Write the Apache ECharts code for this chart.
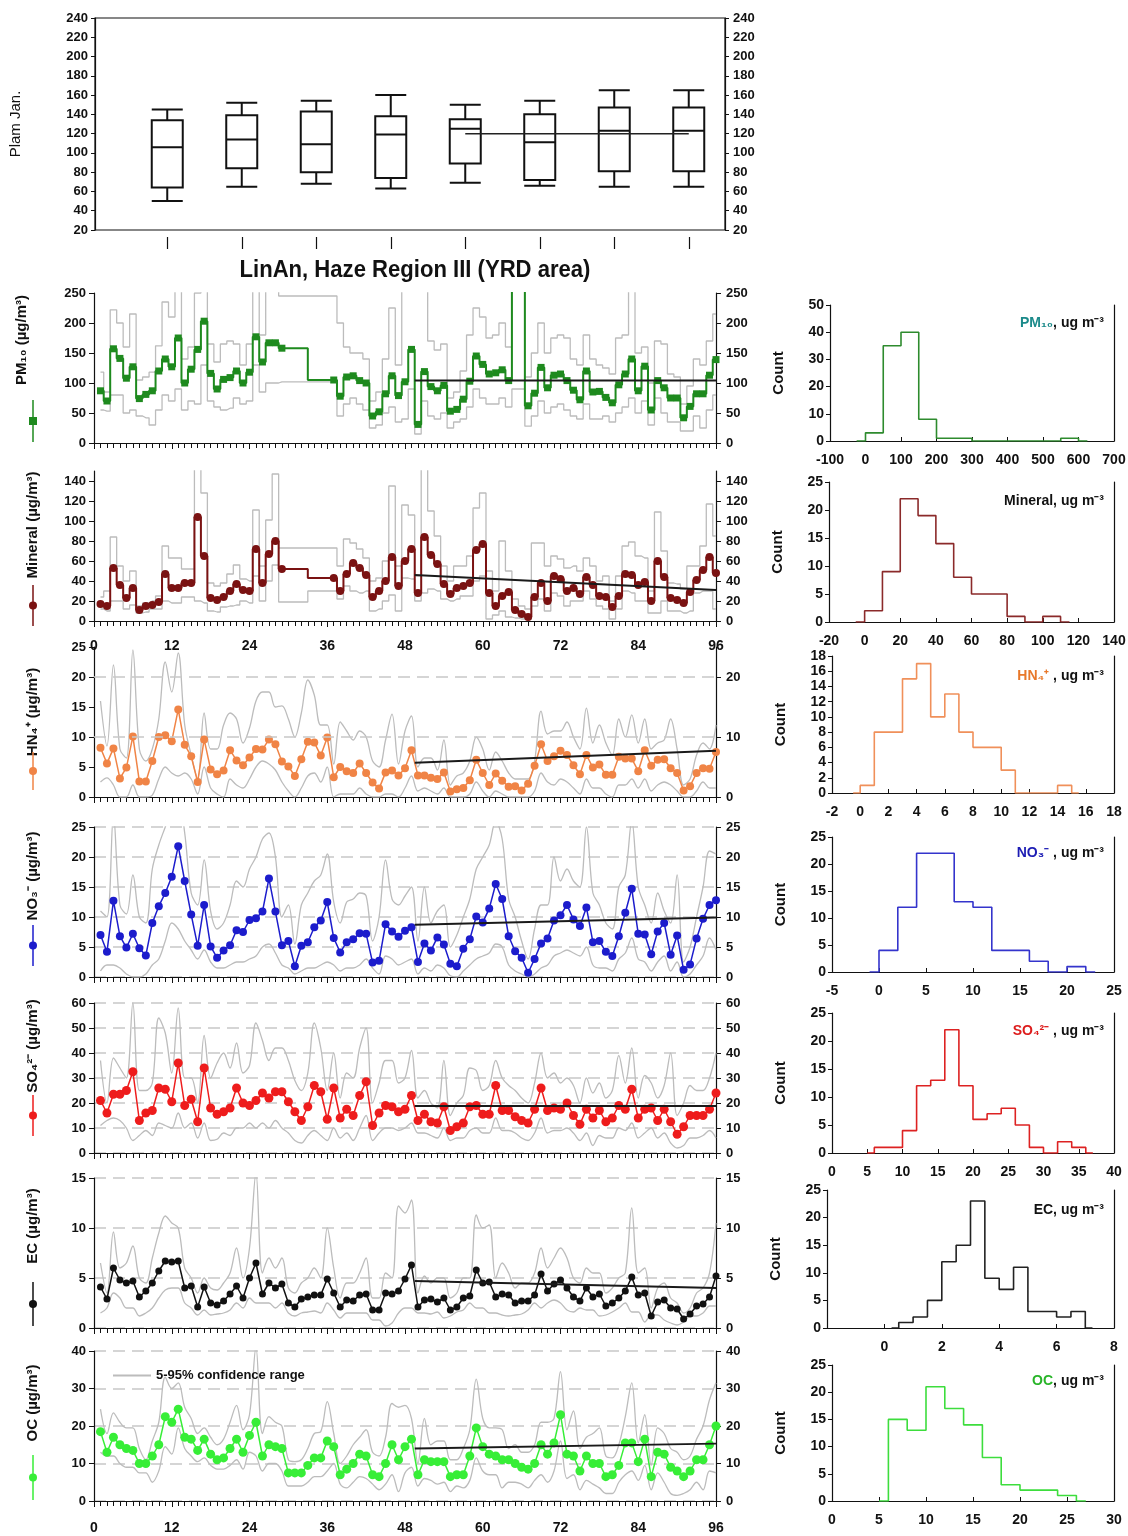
<!DOCTYPE html>
<html>
<head>
<meta charset="utf-8">
<title>LinAn, Haze Region III (YRD area)</title>
<script src="https://cdn.jsdelivr.net/npm/echarts@6/dist/echarts.min.js"></script>
<style>
  html, body { margin: 0; padding: 0; background: #fff; }
  #chart { width: 1128px; height: 1536px; }
</style>
</head>
<body>
<div id="chart"></div>
<script>
// ---- box plot (top panel) ----
const boxCats = ['1', '2', '3', '4', '5', '6', '7', '8']
// [min, Q1, median, Q3, max]
const boxStats = [
  [50, 64, 106, 134, 145],
  [65, 84, 114, 139, 152],
  [68, 80, 109, 143, 154],
  [63, 74, 119, 138, 160],
  [69, 89, 125, 135, 150],
  [66, 72, 111, 140, 154],
  [65, 81, 123, 147, 165],
  [65, 81, 123, 147, 165]
]
const boxLevel = [null, null, null, null, 120, 120, 120, 120]

// ---- time series, day 1..96 (null = no sample) ----
const pm10 = [87,70,157,141,108,127,74,81,87,120, 140,127,175,100,123,156,203,116,90,106,
  109,120,100,118,177,135,167,167,158,null, null,null,null,null,null,null,105,78,110,112,
  104,100,45,52,82,112,79,102,156,31, 119,94,87,96,53,56,73,103,145,131,
  115,117,122,104,575,270,62,83,126,92, 113,115,104,88,72,120,85,86,76,67,
  97,115,140,87,128,55,104,92,75,75, 42,61,82,82,113,139]
const pm10Upper = [118,85,222,200,160,215,105,110,118,162, 235,210,260,140,160,250,300,165,135,165,
  170,165,130,165,300,180,300,300,245,null, null,null,null,null,null,null,245,200,160,150,
  150,140,70,85,140,225,130,300,300,300, 300,170,155,165,75,85,120,180,225,210,
  175,180,200,160,700,400,110,150,200,150, 175,180,175,140,130,180,140,130,125,115,
  175,180,300,150,160,100,170,165,115,110, 65,95,140,130,170,215]
const pm10Lower = [55,53,80,80,50,55,45,42,30,55, 80,70,90,55,70,65,130,70,60,55,
  58,75,65,70,130,85,100,100,102,null, null,null,null,null,null,null,102,45,65,75,
  65,55,25,30,50,60,35,40,90,15, 70,45,40,50,25,35,40,60,90,75,
  65,65,75,60,90,90,28,45,70,50, 60,65,55,45,40,65,40,40,45,35,
  50,60,75,50,70,30,75,50,35,35, 20,20,45,25,55,80]
const pm10Trend = [[49.5, 104], [96, 104]]

const mineral = [17,15,53,36,23,33,11,15,16,19, 47,33,33,38,38,104,65,23,21,24,
  30,37,31,30,72,38,67,80,52,null, null,null,null,null,null,null,43,30,47,58,
  53,46,24,30,40,64,35,60,72,28, 84,66,57,37,27,33,35,38,71,77,
  28,15,25,29,11,7,4,24,38,20, 45,42,30,33,27,44,36,25,24,14,
  25,47,46,36,39,20,60,44,23,21, 18,29,41,51,64,48]
const mineralUpper = [24,30,84,55,40,50,15,18,20,25, 75,63,63,52,52,160,128,38,35,38,
  47,56,42,40,111,55,101,147,73,null, null,null,null,null,null,null,73,55,82,78,
  72,63,40,43,60,135,55,116,106,45, 165,110,85,55,40,55,55,65,113,128,
  50,30,80,50,22,15,12,78,78,55, 65,62,53,55,50,63,55,40,45,20,
  45,75,79,65,63,30,109,70,38,37, 32,55,55,75,117,85]
const mineralLower = [12,10,20,20,12,16,8,9,12,12, 20,18,18,24,24,20,18,10,9,14,
  15,16,20,18,45,20,40,56,19,null, null,null,null,null,null,null,30,22,35,30,
  28,30,10,12,20,26,10,43,42,20, 28,32,30,22,20,22,25,25,40,45,
  2,6,10,4,3,2,2,15,22,10, 28,25,15,20,20,30,22,15,12,2,
  12,30,28,20,20,8,8,20,10,10, 8,10,28,30,30,12]
const mineralTrend = [[49.5, 46], [96, 31]]

const nh4 = [8.2,5.6,8.1,3.1,4.9,10.1,2.6,2.6,6,10, 10.3,9.3,14.6,8.7,6.8,2.5,9.6,4.6,3.8,4.4,
  7.8,6.1,5.3,6.6,8,7.9,9.6,8.8,5.9,5.1, 3.5,6.3,9.2,9.1,6.9,9.9,3.3,5,4.3,4,
  5.6,4,2.4,1.4,4.1,4.4,3.6,4.8,7.8,3.6, 3.6,3.2,3.0,4.1,0.9,1.3,1.5,2.8,6.2,4.0,
  2.0,3.9,2.7,1.7,1.8,1.1,2.2,5.2,8.8,6.0, 6.8,7.7,7.0,5.3,3.8,7.0,4.9,5.4,3.7,3.7,
  6.7,6.4,6.4,4.3,7.8,5.2,6.2,6.3,4.8,4.0, 1.1,1.8,4.0,4.8,4.7,7.5]
const nh4Upper = [16,8.5,22,8,6.5,24.5,8,6,8,13, 22.5,17.5,24,12,7,3,14,8,8,12,
  14,13,9,11.5,16,17.5,17.5,15,15.2,13, 10,14,19.5,17,12,12,5.5,12.5,11,9.5,
  11,10,6,5,9.5,13.8,5.5,11,13.5,5, 6.5,6.5,4.5,9.5,2,3.5,4,6,10,8,
  4.5,7.5,6,4,3,3,3,6,14.3,10.5, 11,11,12.5,10,8,14.8,9,12,9,7,
  13,10,13.7,9,13,8,9,9.5,13,8, 2,3,7,9,8,12]
const nh4Lower = [2.5,3.2,2,0,0,2,0,0,0.3,3, 5,4,3.5,4,3,0.5,5,1.5,0.5,0,
  3,2,1.5,3,5,6,5.5,4.5,2.5,1, 0,1.5,3.5,4,2.5,5,0,0.5,0.5,0.5,
  1.5,0.5,0,0,0.5,0.5,0,1.5,3.5,1, 1.5,1,0.5,1.5,0,0,0,0.5,2.5,1,
  0,1,0.5,0,0,0,0,1,4,2.5, 2,3,2.5,1.5,0.5,3,1.5,1.5,0.5,0,
  2,2,3,1.5,3,1,2,2.5,2,1, 0,0,1,2.5,1.5,1.5]
const nh4Trend = [[49.5, 5.7], [96, 7.7]]

const no3 = [7,4.2,12.7,6.8,4.9,7.2,4.8,3.6,9,11.8, 14,16.7,21.8,16,10.4,5.2,12,5.1,3.2,4.4,
  5.3,7.8,7.5,9.5,9.8,10.9,16.4,10.9,5.3,6, 1.8,5.2,5.8,8.3,9.4,12.5,6.5,4.1,5.8,6.3,
  7.3,7.2,2.4,2.7,8.8,7.6,6.7,7.7,8.3,2.5, 5.6,4.4,6.6,5.4,2.2,1.8,4.7,6.3,10.1,9.1,
  11.4,15.5,13,6.8,4.3,3.2,0.7,3,5.6,6.4, 9.4,10.3,12,9.6,8.5,11.6,5.8,6,4.2,3.5,
  6.8,10.7,14.7,7.2,7.1,3.8,7.6,9,3.7,6.9, 1.2,2.1,6.4,9.7,12,12.8]
const no3Upper = [11,10,27,12,10.5,17,10,9,18,22, 25,28,30,24,14,12,19.5,11,8,9,
  12,16,15,18,20,23,24,20,10,12, 5.5,12,14,16,17,20.5,12.5,9,12.5,13,
  14,13.5,6,10,19.5,13,12,13.5,15,6, 15,9,11,12,5,7,10,13,18,20,
  22,26,23,13,10,6,3,8,12,12, 20,16,18,16,15,25,14,12,9,8,
  15,17,26,15,12,9,14,11,9,17, 2.5,5,10,15,21,20.5]
const no3Lower = [1,2,2,1.5,0.5,0,0,0.5,2,3, 6,9,8,6,4.5,3,4.5,2.5,1.5,1.5,
  2,2.5,2.5,3,3.5,5,5.5,4,2,1.5, 0.5,1,1.5,1.5,2,2.5,2,1,1.5,1.5,
  2,3,1.5,0.5,3.5,3,2,2.5,3,0.5, 1.5,1,2,1.5,0.2,0,1,2,3,3.5,
  4,5.5,5,2,1,0.5,0,0.5,1.5,2, 3.5,4,4.5,4,3.5,5,2,1.5,1.5,1,
  3,4,6.5,3,2.5,1,2.5,3.5,1,2.5, 0,0.5,2,3.5,6.5,4.5]
const no3Trend = [[49.5, 8.7], [96, 9.9]]

const so4 = [21,16,23.5,23.5,25,32.5,13,16,17,26, 25.5,20.5,36,19,21.5,12.5,34,18,15.5,16.5,
  18,26,20,19,21,24,22,24.5,24.5,20.5, 16.5,13,18.5,27,24.5,13.5,26,14,17.5,15,
  23,28.5,11,16,19,18.5,16.5,17.5,23,13, 15.5,12.5,12,18.5,9,10.5,12,18.5,19,15.5,
  15.5,27,17,17,14.5,13,12,17.5,26,17, 18,17.5,20,15,11.5,17.5,14,17,12.5,14,
  19,17.5,25.5,14,17.5,18,13,17.5,12.5,7.5, 10.5,15,15,15,17.5,24]
const so4Upper = [37,20,38,34,30,60,25,25,28,54, 48,32,58,30,30,20,47,30,36,40,
  34,44,32,35,52,45,37,42,42,37, 29,25,32,52,42,25,40,22,32,30,
  42,50,20,28,37,37,28,30,41,22, 25,20,18,37,15,20,23,34,33,25,
  27,37,30,27,25,22,20,28,40,30, 32,28,30,27,20,30,24,28,22,25,
  39,28,42,22,31,28,22,27,40,15, 20,27,25,25,30,40]
const so4Lower = [11,13,14,13,10,5,7,9,7,12, 11,10,16,10,12,6,12,5,5.5,8,
  7,10,10,12,10,12,10,13,10,8, 5,4,7,9,7,5,10,6,8,5,
  10,15,5,8,10,10,9,10,12,8, 8,7,6,10,5,6,6,9,10,8,
  8,14,9,9,8,6,5,8,14,8, 9,9,10,8,5,8,3,7,6,6,
  10,9,12,6,8,10,6,8,4,2, 3,6,6,7,9,6]
const so4Trend = [[49.5, 18.8], [96, 18.8]]

const ec = [4.1,2.9,6.0,4.8,4.5,4.7,3.1,3.7,4.5,5.7, 6.7,6.6,6.7,4.0,4.2,2.1,4.1,2.5,2.3,2.7,
  3.4,4.2,3.0,5.0,6.5,3.4,4.5,4.0,4.4,2.5, 2.1,2.9,3.1,3.3,3.3,4.9,3.5,2.1,2.8,2.7,
  3.3,3.4,1.8,1.8,3.5,3.4,3.7,4.9,6.3,2.1, 2.8,2.9,2.6,3.0,1.8,2.1,3.0,3.2,5.8,4.5,
  4.6,3.1,3.4,3.3,2.5,2.7,2.7,3.3,5.4,3.7, 4.4,4.8,4.0,3.1,2.7,4.0,3.1,3.4,2.2,2.5,
  3.0,3.7,5.1,3.3,3.5,1.2,2.6,2.8,2.0,1.9, 0.9,1.4,2.2,2.4,3.1,5.2]
const ecUpper = [6.5,3.5,9.6,6,6.5,8.2,5,4.5,7,9.5, 11.2,10.5,10,6,5,3.5,5,4,3.8,4.5,
  5.5,8,5,8,15.5,5.5,7,6,7,4, 3.5,4.5,5,6,5,10,6,3,4.5,4.5,
  5.5,7,3,3,5.5,5,12.2,11.5,12.8,3.5, 5.2,4.5,5,5,3,3.5,5,5,11.3,10,
  10.3,5,6.5,5.5,4,4.5,4.5,5.5,8,6, 7,8,7,5,4.5,6,5.5,5.5,3.5,4,
  5,5.5,12,5.5,6,2,4,4.5,3,2.5, 1.5,2,3.5,4,5.5,10.5]
const ecLower = [1.5,2,3.5,3,2,2,1.2,1.5,2,3, 3.8,4,4,2.5,2,1.3,1.8,1.3,1.4,1.5,
  1.8,2.5,2,3,2.5,2.5,2.5,2,2.5,1.5, 1.2,1.5,1.6,1.7,1.5,2.5,1.8,1,1.5,1.5,
  1.5,1.5,0.8,0.8,0.2,0.5,1.5,2,2,1.5, 1.5,1.4,1.6,1,1.2,1.6,1.8,2.5,2,2,
  1.5,1.5,1.3,1.2,1.3,1.4,1.8,2.5,2,2.5, 2.8,2.5,1.8,1.6,2,1.8,1.8,1.2,1.3,1.6,
  2,2.5,1.6,1.6,0.6,1.3,1.3,0.8,0.5,0.3, 0.6,1.2,1.2,1.5,2.2,2.2]
const ecTrend = [[49.5, 4.7], [96, 4.0]]

const oc = [18.5,13,17,15,14,13.5,10,10,12,15, 22.5,21,24.5,17,16.5,13.5,16.5,12.5,11,11.5,
  14,16.5,13,17.5,21,12,15,14.5,14,7.5, 7.5,7.5,9.5,11.5,11.5,16,14.5,7,8.5,10,
  12.5,12,7,6.5,10,15,11,14.5,16.5,7, 11,10.5,10.5,10.5,6.5,7,7,12,19.5,14.5,
  12.5,12,11,11,10,9,8.5,10,15,12.5, 15.5,23,12.5,12,8,12,10,10,6.5,7,
  9.5,15.5,15.5,10.5,16.5,6.5,13,12.5,9,8, 6.5,8,11,11,15,20]
const ocUpper = [24.5,18,23.5,21,19.5,19.5,14,11,16,21, 33,30,31.5,25,22,18,19.5,17,15,16.5,
  21,25.5,19,23,41,18,22.5,21,20,11, 10.5,11,14,18,18.5,26.5,18,10,12,15,
  17,19,13,12,17,26,25,25.5,22,10, 22,15,16,16,11,11,14,19,32.5,22,
  19.5,19.5,19,14,15,13,13,15,21,21, 22,34.5,19,24,14,17,18,19.5,12,11.5,
  15,22.5,31.5,15.5,23,9.5,19.5,18,14,13, 11,12,16.5,20,27,31.5]
const ocLower = [13,12,12,10,9,9,7.5,7.5,5,8, 14.5,12.5,19.5,14,12,10.5,11.5,9.5,8.5,8.5,
  9.5,11,8.5,13,12,8,10,10,8,4, 4,4,5,6.5,6.5,8,10,4.5,3.5,5,
  6.5,6,4.5,3,4.5,7,2.5,7.5,9,4, 6,5.5,4.5,5,2.5,4,3.5,5.5,11.5,8,
  7,7,3.5,5,5,4.5,3.5,5.5,7,5, 8,16,6,7,3,5.5,4.5,3.5,2,2,
  5,7,8,5.5,9.5,3,7.5,5,2,1.5, 2,3,5,3,8,7.5]
const ocTrend = [[49.5, 14.0], [96, 15.3]]

// ---- histograms: bin centres and counts ----
const pm10HistBins = [-25, 25, 75, 125, 175, 225, 275, 325, 375, 425, 475, 525, 575, 625]
const pm10HistCounts = [0, 3, 35, 40, 8, 1, 1, 0, 0, 0, 0, 0, 1, 0]
const mineralHistBins = [-5, 5, 15, 25, 35, 45, 55, 65, 75, 85, 95, 105, 115]
const mineralHistCounts = [0, 2, 9, 22, 19, 14, 8, 5, 5, 1, 0, 1, 0]
const nh4HistBins = [-0.5, 0.5, 1.5, 2.5, 3.5, 4.5, 5.5, 6.5, 7.5, 8.5, 9.5, 10.5, 11.5, 12.5, 13.5, 14.5, 15.5]
const nh4HistCounts = [0, 1, 8, 8, 15, 17, 10, 13, 8, 6, 6, 3, 0, 0, 0, 1, 0]
const no3HistBins = [-1, 1, 3, 5, 7, 9, 11, 13, 15, 17, 19, 21, 23]
const no3HistCounts = [0, 4, 12, 22, 22, 13, 12, 4, 4, 2, 0, 1, 0]
const so4HistBins = [5, 7, 9, 11, 13, 15, 17, 19, 21, 23, 25, 27, 29, 31, 33, 35, 37]
const so4HistCounts = [0, 1, 1, 4, 12, 13, 22, 12, 6, 7, 8, 5, 1, 0, 2, 1, 0]
const ecHistBins = [0.25, 0.75, 1.25, 1.75, 2.25, 2.75, 3.25, 3.75, 4.25, 4.75, 5.25, 5.75, 6.25, 6.75, 7.25]
const ecHistCounts = [0, 1, 2, 5, 12, 15, 23, 9, 7, 11, 3, 3, 2, 3, 0]
const ocHistBins = [5, 7, 9, 11, 13, 15, 17, 19, 21, 23, 25, 27]
const ocHistCounts = [0, 15, 13, 21, 17, 14, 8, 3, 2, 2, 1, 0]

const FONT = '"Liberation Sans", Arial, Helvetica, sans-serif'
const INK = '#111'
const GREY = '#bcbcbc'

function pairs(values) {
  const out = []
  values.forEach((v, i) => { if (v != null) out.push([i + 1, v]) })
  return out
}
function zip(xs, ys) {
  return xs.map((x, i) => [x, ys[i]])
}
function lbl(extra) {
  return Object.assign({ color: INK, fontFamily: FONT, fontWeight: 'bold', fontSize: 13 }, extra || {})
}
const axisLine = { show: true, onZero: false, lineStyle: { color: INK, width: 1.2 } }
const dashed = { show: true, lineStyle: { color: '#c8c8c8', width: 1.5, type: [12, 7] } }

const grids = []
const xAxes = []
const yAxes = []
const series = []
const graphics = []

// top box plot panel: frame grid + category grid for the boxes
grids.push({ left: 95, right: 403, top: 18, height: 212, show: true, borderColor: INK, borderWidth: 1.2, outerBoundsMode: 'none' })
xAxes.push({ gridIndex: 0, type: 'value', min: 0, max: 1, show: false })
yAxes.push({
  gridIndex: 0, type: 'value', min: 20, max: 240, interval: 20,
  axisLine, axisTick: { show: true, length: 4, lineStyle: { color: INK } },
  axisLabel: lbl({ margin: 7 }), splitLine: { show: false },
  name: 'Plam Jan.', nameLocation: 'middle', nameGap: 72, nameMoveOverlap: false,
  nameTextStyle: { color: INK, fontFamily: FONT, fontSize: 15 }
})
yAxes.push({
  gridIndex: 0, type: 'value', position: 'right', min: 20, max: 240, interval: 20,
  axisLine, axisTick: { show: true, length: 4, lineStyle: { color: INK } },
  axisLabel: lbl({ margin: 8 }), splitLine: { show: false }
})
grids.push({ left: 130, right: 402, top: 18, height: 212, outerBoundsMode: 'none' })
xAxes.push({
  gridIndex: 1, type: 'category', data: boxCats, offset: 7,
  axisLine: { show: false }, axisLabel: { show: false },
  axisTick: { show: true, alignWithLabel: true, length: 12, lineStyle: { color: INK, width: 1.2 } }
})
yAxes.push({ gridIndex: 1, type: 'value', min: 20, max: 240, show: false })
series.push({
  type: 'boxplot', xAxisIndex: 1, yAxisIndex: 2, data: boxStats, boxWidth: [31, 31],
  itemStyle: { color: '#fff', borderColor: INK, borderWidth: 2 }
})
series.push({
  type: 'line', xAxisIndex: 1, yAxisIndex: 2, data: boxLevel, symbol: 'none',
  lineStyle: { color: '#222', width: 1.5 }, z: 5
})

// time series panels
const panels = [
  { name: 'PM₁₀ (µg/m³)', color: '#1e8a1e', symbol: 'rect', size: 7, step: true, max: 250, interval: 50, rInterval: 50,
    top: 293, main: pm10, up: pm10Upper, low: pm10Lower, trend: pm10Trend, gridLines: 'none', nameAt: [22, 340], glyph: [400, 442] },
  { name: 'Mineral (µg/m³)', color: '#7a1212', symbol: 'circle', size: 8, step: true, max: 150, interval: 20, rInterval: 20,
    top: 471, main: mineral, up: mineralUpper, low: mineralLower, trend: mineralTrend, gridLines: 'none', nameAt: [33, 525], glyph: [585, 626], xLabels: 18 },
  { name: 'HN₄⁺ (µg/m³)', color: '#f08446', symbol: 'circle', size: 8, step: false, max: 25, interval: 5, rInterval: 10,
    top: 647, main: nh4, up: nh4Upper, low: nh4Lower, trend: nh4Trend, gridLines: 'mark', nameAt: [33, 712], glyph: [752, 790] },
  { name: 'NO₃⁻ (µg/m³)', color: '#1c1ccc', symbol: 'circle', size: 8, step: false, max: 25, interval: 5, rInterval: 5,
    top: 827, main: no3, up: no3Upper, low: no3Lower, trend: no3Trend, gridLines: 'split', nameAt: [33, 876], glyph: [925, 966] },
  { name: 'SO₄²⁻ (µg/m³)', color: '#ee1c1c', symbol: 'circle', size: 9, step: false, max: 60, interval: 10, rInterval: 10,
    top: 1003, main: so4, up: so4Upper, low: so4Lower, trend: so4Trend, gridLines: 'split', nameAt: [33, 1046], glyph: [1095, 1136] },
  { name: 'EC (µg/m³)', color: '#111111', symbol: 'circle', size: 7, step: false, max: 15, interval: 5, rInterval: 5,
    top: 1178, main: ec, up: ecUpper, low: ecLower, trend: ecTrend, gridLines: 'split', nameAt: [33, 1226], glyph: [1282, 1326] },
  { name: 'OC (µg/m³)', color: '#37ee37', symbol: 'circle', size: 9, step: false, max: 40, interval: 10, rInterval: 10,
    top: 1351, main: oc, up: ocUpper, low: ocLower, trend: ocTrend, gridLines: 'split', nameAt: [33, 1403], glyph: [1455, 1500], xLabels: 20 }
]

panels.forEach((p, k) => {
  const gi = grids.length
  grids.push({ left: 94, right: 412, top: p.top, height: 150, outerBoundsMode: 'none' })
  const xi = xAxes.length
  xAxes.push({
    gridIndex: gi, type: 'value', min: 0, max: 96, interval: 12,
    axisLine,
    axisTick: { show: true, length: 6, lineStyle: { color: INK } },
    minorTick: { show: true, splitNumber: 12, length: 5, lineStyle: { color: INK } },
    axisLabel: p.xLabels ? lbl({ fontSize: 14, margin: p.xLabels }) : { show: false },
    splitLine: { show: false }
  })
  const yi = yAxes.length
  yAxes.push({
    gridIndex: gi, type: 'value', min: 0, max: p.max, interval: p.interval,
    axisLine, axisTick: { show: true, length: 5, lineStyle: { color: INK } },
    axisLabel: lbl({ margin: 8, showMaxLabel: p.max % p.interval === 0 }),
    splitLine: p.gridLines === 'split' ? dashed : { show: false }
  })
  yAxes.push({
    gridIndex: gi, type: 'value', position: 'right', min: 0, max: p.max, interval: p.rInterval,
    axisLine, axisTick: { show: true, length: 5, lineStyle: { color: INK } },
    axisLabel: lbl({ margin: 10, showMaxLabel: p.max % p.rInterval === 0 }),
    splitLine: { show: false }
  })
  const stepMode = p.step ? 'middle' : false
  const greyLine = (data, name) => ({
    type: 'line', name, xAxisIndex: xi, yAxisIndex: yi, data: pairs(data),
    step: stepMode, smooth: p.step ? false : 0.35, symbol: 'none',
    lineStyle: { color: GREY, width: 1.3 }, itemStyle: { color: GREY }, z: 1
  })
  const low = greyLine(p.low, 'lower ' + k)
  if (p.gridLines === 'mark') {
    low.markLine = {
      silent: true, symbol: 'none', label: { show: false },
      lineStyle: { color: '#c8c8c8', width: 1.5, type: [12, 7] },
      data: [{ yAxis: 10 }, { yAxis: 20 }]
    }
  }
  series.push(low)
  series.push(greyLine(p.up, k === 6 ? '5-95% confidence range' : 'upper ' + k))
  series.push({
    type: 'line', name: 'main ' + k, xAxisIndex: xi, yAxisIndex: yi, data: pairs(p.main),
    step: stepMode, symbol: p.symbol, symbolSize: p.size,
    itemStyle: { color: p.color }, lineStyle: { color: p.color, width: p.step ? 2 : 1.5 }, z: 3
  })
  series.push({
    type: 'line', name: 'trend ' + k, xAxisIndex: xi, yAxisIndex: yi, data: p.trend,
    symbol: 'none', lineStyle: { color: '#1a1a1a', width: 2 }, z: 4
  })

  // rotated axis title and the small legend glyph under it
  graphics.push({
    type: 'text', x: p.nameAt[0], y: p.nameAt[1], rotation: Math.PI / 2,
    style: { text: p.name, fill: INK, font: 'bold 15px ' + FONT, align: 'center', verticalAlign: 'middle' }
  })
  const gx = 33
  const gm = (p.glyph[0] + p.glyph[1]) / 2
  graphics.push({ type: 'line', shape: { x1: gx, y1: p.glyph[0], x2: gx, y2: p.glyph[1] }, style: { stroke: p.color, lineWidth: 1.5 } })
  if (p.symbol === 'rect') {
    graphics.push({ type: 'rect', shape: { x: gx - 4, y: gm - 4, width: 8, height: 8 }, style: { fill: p.color } })
  } else {
    graphics.push({ type: 'circle', shape: { cx: gx, cy: gm, r: 4 }, style: { fill: p.color } })
  }
})

// histograms on the right
const hists = [
  { bins: pm10HistBins, counts: pm10HistCounts, color: '#2e8b2e', top: 305, height: 136, left: 830, min: -100, max: 700, interval: 100, ymax: 50, yint: 10,
    title: '{c|PM₁₀}{k|, ug m⁻³}', tColor: '#1b8a8a', tY: 323 },
  { bins: mineralHistBins, counts: mineralHistCounts, color: '#8b2a2a', top: 482, height: 140, left: 829, min: -20, max: 140, interval: 20, ymax: 25, yint: 5,
    title: '{k|Mineral, ug m⁻³}', tColor: INK, tY: 501 },
  { bins: nh4HistBins, counts: nh4HistCounts, color: '#f0905a', top: 656, height: 137, left: 832, min: -2, max: 18, interval: 2, ymax: 18, yint: 2,
    title: '{c|HN₄⁺}{k| , ug m⁻³}', tColor: '#e8782a', tY: 676 },
  { bins: no3HistBins, counts: no3HistCounts, color: '#3434cc', top: 837, height: 135, left: 832, min: -5, max: 25, interval: 5, ymax: 25, yint: 5,
    title: '{c|NO₃⁻}{k| , ug m⁻³}', tColor: '#1c1cb4', tY: 853 },
  { bins: so4HistBins, counts: so4HistCounts, color: '#dd2222', top: 1013, height: 140, left: 832, min: 0, max: 40, interval: 5, ymax: 25, yint: 5,
    title: '{c|SO₄²⁻}{k| , ug m⁻³}', tColor: '#dd1c1c', tY: 1031 },
  { bins: ecHistBins, counts: ecHistCounts, color: '#222222', top: 1190, height: 138, left: 827, min: -2, max: 8, interval: 2, ymax: 25, yint: 5,
    title: '{k|EC, ug m⁻³}', tColor: INK, tY: 1210, hideNeg: true },
  { bins: ocHistBins, counts: ocHistCounts, color: '#3ddd3d', top: 1365, height: 136, left: 832, min: 0, max: 30, interval: 5, ymax: 25, yint: 5,
    title: '{c|OC}{k|, ug m⁻³}', tColor: '#28b428', tY: 1381 }
]

hists.forEach((h) => {
  const gi = grids.length
  grids.push({ left: h.left, right: 14, top: h.top, height: h.height, outerBoundsMode: 'none' })
  const xi = xAxes.length
  xAxes.push({
    gridIndex: gi, type: 'value', min: h.min, max: h.max, interval: h.interval,
    axisLine, axisTick: { show: true, inside: true, length: 4, lineStyle: { color: INK } },
    axisLabel: lbl({ fontSize: 14, margin: 12, formatter: (v) => (h.hideNeg && v < 0 ? '' : String(v)) }),
    splitLine: { show: false }
  })
  const yi = yAxes.length
  yAxes.push({
    gridIndex: gi, type: 'value', min: 0, max: h.ymax, interval: h.yint,
    axisLine, axisTick: { show: true, length: 4, lineStyle: { color: INK } },
    axisLabel: lbl({ fontSize: 14, margin: 6 }), splitLine: { show: false },
    name: 'Count', nameLocation: 'middle', nameGap: 44, nameMoveOverlap: false,
    nameTextStyle: lbl({ fontSize: 15 })
  })
  yAxes.push({
    gridIndex: gi, type: 'value', position: 'right', min: 0, max: h.ymax,
    axisLine, axisTick: { show: false }, axisLabel: { show: false }, splitLine: { show: false }
  })
  series.push({
    type: 'line', xAxisIndex: xi, yAxisIndex: yi, data: zip(h.bins, h.counts), step: 'middle',
    symbol: 'none', lineStyle: { color: h.color, width: 1.6 }, z: 3
  })
  graphics.push({
    type: 'text', x: 1104, y: h.tY,
    style: {
      text: h.title, align: 'right', verticalAlign: 'middle',
      rich: {
        c: { fill: h.tColor, font: 'bold 14px ' + FONT },
        k: { fill: INK, font: 'bold 14px ' + FONT }
      }
    }
  })
})

// title between the box plot and the series
graphics.push({
  type: 'text', x: 415, y: 270, scaleX: 0.92,
  style: { text: 'LinAn, Haze Region III (YRD area)', fill: INK, font: 'bold 24px "Liberation Sans Narrow", ' + FONT, align: 'center', verticalAlign: 'middle' }
})

const chart = echarts.init(document.getElementById('chart'), null, { renderer: 'canvas' })
chart.setOption({
  animation: false,
  backgroundColor: '#fff',
  textStyle: { fontFamily: FONT },
  legend: {
    data: ['5-95% confidence range'], left: 108, top: 1364, itemWidth: 38, itemHeight: 2,
    icon: 'rect', textStyle: lbl({ fontSize: 13 }), selectedMode: false
  },
  grid: grids,
  xAxis: xAxes,
  yAxis: yAxes,
  series,
  graphic: graphics
})
</script>
</body>
</html>
